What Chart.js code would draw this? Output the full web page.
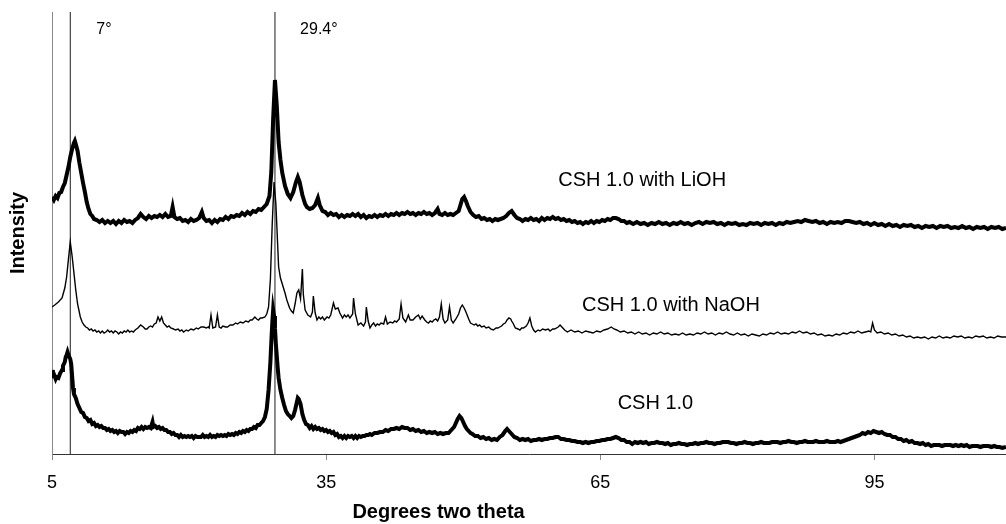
<!DOCTYPE html>
<html>
<head>
<meta charset="utf-8">
<script src="https://cdn.jsdelivr.net/npm/chart.js@4.4.1/dist/chart.umd.min.js"></script>
<style>
  html, body { margin: 0; padding: 0; background: #fff; }
  #wrap { width: 1006px; height: 524px; }
</style>
</head>
<body>
<div id="wrap"><canvas id="c"></canvas></div>
<script>
// XRD scans: [two theta (deg), intensity (arb.)], offsets as plotted
const liohScan = [
  [5.0,257],[5.2,254],[5.4,258],[5.6,256],[5.8,261],[6.0,262],[6.2,267],[6.4,271],[6.6,279],[6.8,287],
  [7.0,297],[7.2,305],[7.4,311],[7.5,313],[7.6,310],[7.8,303],[8.0,291],[8.2,281],[8.4,271],[8.6,262],
  [8.8,252],[9.0,245],[9.2,240],[9.4,238],[9.6,235],[9.9,234],[10.2,232],[10.5,234],[10.8,231],[11.1,233],
  [11.4,231],[11.7,233],[12.0,230],[12.3,233],[12.6,231],[12.9,234],[13.2,232],[13.5,233],[13.8,231],[14.1,234],
  [14.4,236],[14.7,240],[15.0,237],[15.3,235],[15.6,238],[15.9,236],[16.2,238],[16.5,237],[16.8,239],[17.1,237],
  [17.4,240],[17.7,237],[18.0,238],[18.2,247],[18.4,237],[18.7,235],[19.0,236],[19.3,233],[19.6,234],[19.9,232],
  [20.2,235],[20.5,233],[20.8,234],[21.1,236],[21.4,242],[21.6,236],[21.9,233],[22.2,234],[22.5,231],[22.8,234],
  [23.1,232],[23.4,235],[23.7,234],[24.0,237],[24.3,235],[24.6,238],[24.9,237],[25.2,239],[25.5,238],[25.8,241],
  [26.1,239],[26.4,242],[26.7,240],[27.0,243],[27.3,242],[27.6,245],[27.9,244],[28.2,247],[28.5,250],[28.8,258],
  [29.0,282],[29.2,335],[29.4,374],[29.6,348],[29.8,312],[30.0,294],[30.2,281],[30.5,268],[30.8,260],[31.1,256],
  [31.4,262],[31.7,272],[31.9,277],[32.1,272],[32.4,259],[32.7,250],[32.9,247],[33.2,245],[33.5,246],[33.8,249],
  [34.1,256],[34.3,249],[34.6,243],[34.9,242],[35.2,239],[35.5,241],[35.8,239],[36.1,240],[36.4,237],[36.7,239],
  [37.0,237],[37.3,239],[37.6,238],[37.9,240],[38.2,238],[38.5,240],[38.8,237],[39.1,239],[39.4,236],[39.7,238],
  [40.0,237],[40.3,239],[40.6,237],[40.9,239],[41.2,238],[41.5,240],[41.8,238],[42.1,240],[42.4,239],[42.7,241],
  [43.0,239],[43.3,241],[43.6,240],[43.9,242],[44.2,240],[44.5,241],[44.8,239],[45.1,241],[45.4,240],[45.7,242],
  [46.0,240],[46.3,241],[46.6,239],[46.9,241],[47.2,245],[47.4,240],[47.7,239],[48.0,241],[48.3,239],[48.6,240],
  [48.9,239],[49.2,241],[49.5,243],[49.7,249],[49.9,255],[50.1,257],[50.3,253],[50.5,248],[50.8,242],[51.1,239],
  [51.4,237],[51.7,238],[52.0,235],[52.3,236],[52.6,234],[52.9,235],[53.2,233],[53.5,235],[53.8,234],[54.1,235],
  [54.4,236],[54.7,238],[55.0,241],[55.3,243],[55.6,239],[55.9,236],[56.2,235],[56.5,233],[56.8,235],[57.1,234],
  [57.4,236],[57.7,234],[58.0,235],[58.3,233],[58.6,236],[58.9,234],[59.2,236],[59.5,235],[59.8,237],[60.1,235],
  [60.4,236],[60.7,234],[61.0,235],[61.3,233],[61.6,234],[61.9,232],[62.2,233],[62.5,231],[62.8,232],[63.1,230],
  [63.4,232],[63.7,231],[64.0,233],[64.3,231],[64.6,233],[64.9,232],[65.2,234],[65.5,233],[65.8,235],[66.1,234],
  [66.4,236],[66.7,236],[67.0,235],[67.3,233],[67.6,233],[67.9,231],[68.2,232],[68.6,230],[69.0,232],[69.4,230],
  [69.8,231],[70.2,229],[70.6,231],[71.0,230],[71.4,232],[71.8,230],[72.2,231],[72.6,229],[73.0,231],[73.4,230],
  [73.8,232],[74.2,230],[74.6,231],[75.0,229],[75.4,231],[75.8,232],[76.2,230],[76.6,232],[77.0,231],[77.4,232],
  [77.8,230],[78.2,231],[78.6,229],[79.0,231],[79.4,230],[79.8,231],[80.2,229],[80.6,230],[81.0,229],[81.4,231],
  [81.8,230],[82.2,231],[82.6,229],[83.0,231],[83.4,230],[83.8,231],[84.2,229],[84.6,231],[85.0,230],[85.4,232],
  [85.8,231],[86.2,232],[86.6,233],[87.0,232],[87.4,234],[87.8,233],[88.2,232],[88.6,233],[89.0,231],[89.4,232],
  [89.8,230],[90.2,232],[90.6,231],[91.0,232],[91.4,231],[91.8,233],[92.2,233],[92.6,232],[93.0,231],[93.4,232],
  [93.8,230],[94.2,231],[94.6,229],[95.0,231],[95.4,229],[95.8,230],[96.2,228],[96.6,230],[97.0,228],[97.4,229],
  [97.8,227],[98.2,229],[98.6,228],[99.0,229],[99.4,227],[99.8,228],[100.2,226],[100.6,228],[101.0,227],[101.4,228],
  [101.8,226],[102.2,228],[102.6,227],[103.0,228],[103.4,226],[103.8,227],[104.2,226],[104.6,228],[105.0,226],[105.4,227],
  [105.8,225],[106.2,227],[106.6,226],[107.0,227],[107.4,225],[107.8,227],[108.2,226],[108.6,227],[109.0,225],[109.4,226]
];

const naohScan = [
  [5.0,147],[5.3,149],[5.7,152],[6.1,156],[6.4,166],[6.6,177],[6.8,195],[7.0,212],[7.2,198],[7.4,181],
  [7.6,164],[7.8,150],[8.1,137],[8.3,132],[8.5,129],[8.7,127],[8.9,126],[9.1,124],[9.3,125],[9.5,123],
  [9.7,124],[9.9,122],[10.1,123],[10.3,121],[10.5,123],[10.7,121],[10.9,122],[11.1,124],[11.3,122],[11.5,123],
  [11.7,121],[11.9,123],[12.1,122],[12.3,120],[12.5,122],[12.7,121],[12.9,123],[13.1,122],[13.3,124],[13.5,122],
  [13.7,123],[13.9,122],[14.1,124],[14.4,126],[14.7,129],[15.0,127],[15.2,125],[15.4,125],[15.6,127],[15.8,128],
  [16.0,127],[16.2,130],[16.4,131],[16.6,137],[16.8,133],[17.0,137],[17.2,131],[17.4,129],[17.6,127],[17.8,128],
  [18.0,126],[18.3,125],[18.5,124],[18.8,125],[19.0,123],[19.2,124],[19.4,122],[19.7,124],[19.9,123],[20.2,125],
  [20.5,124],[20.8,126],[21.0,125],[21.3,127],[21.6,127],[21.9,126],[22.1,127],[22.2,126],[22.4,139],[22.6,126],
  [22.9,127],[23.1,139],[23.3,127],[23.5,126],[23.7,128],[24.0,127],[24.2,127],[24.5,129],[24.8,129],[25.1,131],
  [25.3,130],[25.6,132],[25.9,131],[26.2,133],[26.5,132],[26.7,134],[26.9,134],[27.2,137],[27.4,135],[27.6,134],
  [27.8,136],[28.0,136],[28.3,137],[28.5,140],[28.7,147],[28.9,175],[29.1,230],[29.3,272],[29.5,250],[29.8,187],
  [30.0,176],[30.2,170],[30.5,161],[30.7,154],[31.0,146],[31.2,143],[31.4,141],[31.6,150],[31.8,161],[32.0,164],
  [32.2,155],[32.4,185],[32.5,160],[32.7,144],[33.0,139],[33.3,137],[33.5,142],[33.6,158],[33.8,141],[34.0,134],
  [34.2,137],[34.4,135],[34.6,137],[34.8,134],[35.1,137],[35.3,136],[35.5,139],[35.8,151],[36.0,145],[36.3,146],
  [36.5,141],[36.8,136],[37.0,139],[37.2,137],[37.4,139],[37.6,136],[37.9,140],[38.0,156],[38.2,140],[38.5,129],
  [38.8,131],[39.1,128],[39.3,132],[39.4,147],[39.6,133],[39.8,126],[40.0,129],[40.2,131],[40.4,128],[40.6,130],
  [40.8,129],[41.0,131],[41.3,130],[41.5,137],[41.7,130],[42.0,132],[42.3,131],[42.5,133],[42.7,132],[43.0,135],
  [43.2,150],[43.4,136],[43.7,132],[44.0,139],[44.2,134],[44.5,134],[44.8,137],[45.1,139],[45.3,135],[45.5,138],
  [45.8,134],[46.0,132],[46.2,131],[46.4,133],[46.6,132],[46.8,134],[47.0,135],[47.2,133],[47.4,137],[47.6,150],
  [47.8,135],[48.0,131],[48.3,134],[48.5,147],[48.7,134],[48.9,131],[49.2,135],[49.5,140],[49.7,146],[49.9,149],
  [50.1,146],[50.3,142],[50.6,135],[50.8,131],[51.0,130],[51.2,129],[51.4,130],[51.6,128],[51.8,129],[52.0,127],
  [52.3,128],[52.5,126],[52.8,127],[53.0,125],[53.3,124],[53.6,126],[53.8,126],[54.0,127],[54.2,128],[54.4,130],
  [54.6,131],[54.8,134],[55.0,136],[55.2,135],[55.3,133],[55.5,130],[55.7,126],[56.0,125],[56.2,124],[56.4,126],
  [56.6,126],[56.9,128],[57.1,131],[57.3,136],[57.5,128],[57.7,124],[57.9,122],[58.2,124],[58.4,123],[58.7,125],
  [59.0,124],[59.3,125],[59.5,123],[59.8,125],[60.0,125],[60.4,127],[60.6,129],[60.9,126],[61.1,124],[61.4,122],
  [61.8,124],[62.2,122],[62.6,123],[63.0,121],[63.4,123],[63.8,122],[64.2,121],[64.6,123],[65.0,122],[65.4,124],
  [65.8,125],[66.2,127],[66.5,125],[66.8,124],[67.2,122],[67.6,123],[68.0,121],[68.4,122],[68.8,120],[69.2,122],
  [69.6,120],[70.0,121],[70.4,119],[70.8,121],[71.2,120],[71.6,122],[72.0,120],[72.4,121],[72.8,119],[73.2,120],
  [73.6,119],[74.0,121],[74.4,119],[74.8,120],[75.2,119],[75.6,121],[76.0,120],[76.4,122],[76.8,120],[77.2,121],
  [77.6,119],[78.0,121],[78.4,120],[78.8,122],[79.2,120],[79.6,119],[80.0,121],[80.4,119],[80.8,120],[81.2,118],
  [81.6,120],[82.0,119],[82.4,118],[82.8,120],[83.2,119],[83.6,121],[84.0,120],[84.4,122],[84.8,120],[85.2,121],
  [85.6,120],[86.0,122],[86.4,121],[86.8,123],[87.2,121],[87.6,122],[88.0,120],[88.4,121],[88.8,119],[89.2,120],
  [89.6,118],[90.0,119],[90.4,118],[90.8,120],[91.2,119],[91.6,121],[92.0,120],[92.4,122],[92.8,121],[93.2,123],
  [93.6,121],[94.0,122],[94.4,123],[94.6,122],[94.8,131],[95.0,124],[95.3,121],[95.7,122],[96.1,120],[96.5,121],
  [96.9,119],[97.3,120],[97.7,118],[98.1,119],[98.5,117],[98.9,118],[99.3,116],[99.7,117],[100.1,116],[100.5,117],
  [100.9,115],[101.3,117],[101.7,116],[102.1,118],[102.5,116],[102.9,117],[103.3,116],[103.7,118],[104.1,117],[104.5,118],
  [104.9,116],[105.3,117],[105.7,116],[106.1,118],[106.5,117],[106.9,118],[107.3,116],[107.7,117],[108.1,116],[108.5,118],
  [108.9,117],[109.4,117]
];

const cshScan = [
  [5.0,84],[5.1,79],[5.2,80],[5.4,75],[5.5,77],[5.7,76],[5.9,81],[6.1,84],[6.2,88],[6.4,92],
  [6.5,97],[6.6,99],[6.7,102],[6.8,99],[7.0,95],[7.1,90],[7.2,78],[7.3,66],[7.4,60],[7.6,56],
  [7.8,50],[8.0,46],[8.2,42],[8.4,41],[8.6,37],[8.8,36],[9.0,33],[9.2,34],[9.4,30],[9.6,31],
  [9.8,28],[10.0,29],[10.2,27],[10.4,28],[10.6,26],[10.8,26],[11.0,24],[11.2,25],[11.4,23],[11.6,24],
  [11.8,22],[12.0,23],[12.2,21],[12.4,23],[12.6,22],[12.8,22],[13.0,20],[13.2,22],[13.4,21],[13.6,23],
  [13.8,22],[14.0,24],[14.2,23],[14.4,26],[14.6,25],[14.8,27],[15.0,25],[15.2,27],[15.4,26],[15.6,27],
  [15.8,26],[16.0,32],[16.1,27],[16.3,28],[16.5,26],[16.7,27],[16.9,25],[17.1,26],[17.3,24],[17.5,24],
  [17.7,22],[17.9,22],[18.1,20],[18.3,21],[18.5,19],[18.7,19],[18.9,17],[19.1,19],[19.3,17],[19.5,18],
  [19.7,17],[19.9,18],[20.1,17],[20.3,18],[20.5,16],[20.7,18],[20.9,17],[21.1,17],[21.3,17],[21.5,19],
  [21.7,17],[21.9,18],[22.1,17],[22.3,19],[22.5,17],[22.7,18],[22.9,17],[23.1,19],[23.3,18],[23.5,19],
  [23.7,18],[23.9,19],[24.1,18],[24.3,20],[24.5,19],[24.7,20],[24.9,19],[25.1,21],[25.3,20],[25.5,22],
  [25.7,21],[25.9,23],[26.1,22],[26.3,24],[26.5,23],[26.7,25],[26.9,25],[27.1,27],[27.3,26],[27.5,29],
  [27.7,29],[27.9,31],[28.1,33],[28.3,37],[28.5,45],[28.7,64],[28.9,92],[29.0,112],[29.1,130],[29.2,144],
  [29.3,138],[29.4,126],[29.5,110],[29.7,86],[29.8,76],[30.0,64],[30.2,56],[30.4,49],[30.6,43],[30.8,40],
  [31.0,38],[31.2,36],[31.4,38],[31.6,44],[31.8,52],[31.9,56],[32.0,55],[32.2,50],[32.4,40],[32.6,34],
  [32.8,30],[33.0,29],[33.2,26],[33.4,28],[33.6,25],[33.8,27],[34.0,25],[34.2,26],[34.4,24],[34.6,25],
  [34.8,23],[35.0,24],[35.2,22],[35.4,23],[35.6,21],[35.8,22],[36.0,19],[36.2,20],[36.4,17],[36.6,18],
  [36.8,16],[37.0,18],[37.2,16],[37.4,18],[37.6,17],[37.8,18],[38.0,16],[38.2,18],[38.4,16],[38.6,18],
  [38.8,17],[39.0,18],[39.2,18],[39.4,19],[39.6,19],[39.8,20],[40.0,19],[40.3,21],[40.6,21],[40.9,22],
  [41.2,22],[41.5,24],[41.8,23],[42.1,25],[42.4,25],[42.7,26],[43.0,25],[43.3,27],[43.6,26],[43.9,26],
  [44.2,24],[44.5,25],[44.8,23],[45.1,24],[45.4,22],[45.7,23],[46.0,21],[46.3,22],[46.6,21],[46.9,22],
  [47.2,20],[47.5,21],[47.8,20],[48.1,21],[48.4,21],[48.7,24],[49.0,27],[49.2,31],[49.4,35],[49.6,38],
  [49.8,36],[50.0,32],[50.2,28],[50.4,25],[50.6,23],[50.8,21],[51.0,20],[51.3,18],[51.6,18],[51.9,16],
  [52.2,17],[52.5,15],[52.8,16],[53.1,14],[53.4,15],[53.7,14],[54.0,17],[54.3,19],[54.6,23],[54.8,25],
  [55.0,23],[55.3,20],[55.6,17],[55.9,16],[56.2,14],[56.5,15],[56.8,14],[57.1,15],[57.4,13],[57.7,14],
  [58.0,14],[58.3,15],[58.6,14],[58.9,15],[59.2,15],[59.5,16],[59.8,16],[60.1,17],[60.4,17],[60.7,15],
  [61.0,15],[61.3,14],[61.6,14],[61.9,13],[62.2,13],[62.5,12],[62.8,12],[63.1,11],[63.4,12],[63.7,11],
  [64.0,12],[64.3,12],[64.6,13],[64.9,13],[65.2,14],[65.5,14],[65.8,15],[66.1,15],[66.4,16],[66.7,17],
  [67.0,16],[67.3,14],[67.6,14],[67.9,12],[68.2,12],[68.5,10],[68.8,12],[69.1,11],[69.4,12],[69.7,11],
  [70.0,12],[70.3,10],[70.6,11],[70.9,11],[71.2,12],[71.5,11],[71.8,11],[72.1,10],[72.4,11],[72.7,9],
  [73.0,10],[73.3,10],[73.6,11],[73.9,10],[74.2,10],[74.5,9],[74.8,10],[75.1,10],[75.4,11],[75.7,10],
  [76.0,11],[76.3,11],[76.6,12],[76.9,11],[77.2,11],[77.5,10],[77.8,11],[78.1,11],[78.4,12],[78.7,12],
  [79.0,12],[79.3,11],[79.6,11],[79.9,10],[80.2,11],[80.5,11],[80.8,12],[81.1,11],[81.4,11],[81.7,10],
  [82.0,11],[82.3,11],[82.6,12],[82.9,11],[83.2,11],[83.5,11],[83.8,12],[84.1,12],[84.4,12],[84.7,11],
  [85.0,12],[85.3,12],[85.6,13],[85.9,12],[86.2,12],[86.5,11],[86.8,12],[87.1,12],[87.4,13],[87.7,12],
  [88.0,12],[88.3,12],[88.6,13],[88.9,12],[89.2,12],[89.5,12],[89.8,13],[90.1,12],[90.4,12],[90.7,12],
  [91.0,13],[91.3,12],[91.6,13],[91.9,14],[92.2,15],[92.5,16],[92.8,17],[93.1,18],[93.4,19],[93.7,21],
  [94.0,20],[94.3,22],[94.6,21],[94.9,23],[95.2,22],[95.5,21],[95.8,22],[96.1,20],[96.4,19],[96.7,19],
  [97.0,17],[97.3,17],[97.6,15],[97.9,15],[98.2,13],[98.5,14],[98.8,12],[99.1,13],[99.4,11],[99.7,11],
  [100.0,10],[100.3,11],[100.6,9],[100.9,10],[101.2,8],[101.5,9],[101.8,9],[102.1,9],[102.4,8],[102.7,9],
  [103.0,9],[103.3,9],[103.6,8],[103.9,9],[104.2,8],[104.5,9],[104.8,8],[105.1,9],[105.4,7],[105.7,8],
  [106.0,8],[106.3,8],[106.6,7],[106.9,8],[107.2,8],[107.5,8],[107.8,7],[108.1,8],[108.4,7],[108.7,7],
  [109.0,6],[109.4,7]
];

// axis and reference lines
const xMin = 5;
const xMax = 109.4;
const xTicks = [5, 35, 65, 95];
const yMax = 442;
const refLines = [7, 29.4];
const refLabels = ['7°', '29.4°'];
const seriesNames = ['CSH 1.0 with LiOH', 'CSH 1.0 with NaOH', 'CSH 1.0'];
const xTitle = 'Degrees two theta';

const FONT = 'Arial, "Liberation Sans", sans-serif';

const toXY = arr => arr.map(p => ({x: p[0], y: p[1]}));

const refSets = refLines.map(v => ({
  data: [{x: v, y: 0}, {x: v, y: yMax}],
  borderColor: '#1a1a1a',
  borderWidth: 1,
  pointRadius: 0,
  order: 5
}));

// text anchors in data units: [x deg, y value]
const refLabelAt = [[9.85, 424], [32.15, 424]];
const seriesLabelAt = [[60.4, 274], [63.0, 149], [66.9, 51]];
const xTitleAt = 47.3;

const textPlugin = {
  id: 'texts',
  afterDraw(chart) {
    const {ctx, scales: {x, y}} = chart;
    ctx.save();
    ctx.fillStyle = '#000';
    ctx.textAlign = 'left';
    ctx.textBaseline = 'middle';
    ctx.font = '16px ' + FONT;
    refLabels.forEach((t, i) => {
      ctx.fillText(t, x.getPixelForValue(refLabelAt[i][0]), y.getPixelForValue(refLabelAt[i][1]));
    });
    ctx.font = '20px ' + FONT;
    seriesNames.forEach((t, i) => {
      ctx.fillText(t, x.getPixelForValue(seriesLabelAt[i][0]), y.getPixelForValue(seriesLabelAt[i][1]));
    });
    // axis title sits left of the plot centre in the original
    ctx.font = 'bold 20px ' + FONT;
    ctx.textAlign = 'center';
    ctx.fillText(xTitle, x.getPixelForValue(xTitleAt), x.bottom - 12);
    ctx.restore();
  }
};

new Chart(document.getElementById('c'), {
  type: 'line',
  data: {
    datasets: [
      {label: seriesNames[0], data: toXY(liohScan), borderColor: '#000', borderWidth: 4, pointRadius: 0},
      {label: seriesNames[1], data: toXY(naohScan), borderColor: '#000', borderWidth: 1.4, pointRadius: 0},
      {label: seriesNames[2], data: toXY(cshScan), borderColor: '#000', borderWidth: 4, pointRadius: 0},
      ...refSets
    ]
  },
  options: {
    responsive: true,
    maintainAspectRatio: false,
    animation: false,
    layout: {padding: {top: 12, right: 0, bottom: 0, left: 0}},
    plugins: {legend: {display: false}, tooltip: {enabled: false}},
    scales: {
      x: {
        type: 'linear',
        min: xMin,
        max: xMax,
        afterBuildTicks: s => { s.ticks = xTicks.map(v => ({value: v})); },
        afterFit: s => { s.height = 70; },
        grid: {display: true, drawOnChartArea: false, drawTicks: true, tickLength: 6, color: '#888'},
        border: {display: true, color: '#333', width: 1},
        ticks: {color: '#000', font: {family: FONT, size: 18}, padding: 12, maxRotation: 0},
        title: {display: false}
      },
      y: {
        min: 0,
        max: yMax,
        afterFit: s => { s.width = 52; },
        grid: {display: false},
        border: {display: true, color: '#888', width: 1},
        ticks: {display: false},
        title: {display: true, text: 'Intensity', color: '#000',
                font: {family: FONT, size: 20, weight: 'bold'}, padding: {top: 6, bottom: 0}}
      }
    }
  },
  plugins: [textPlugin]
});
</script>
</body>
</html>
